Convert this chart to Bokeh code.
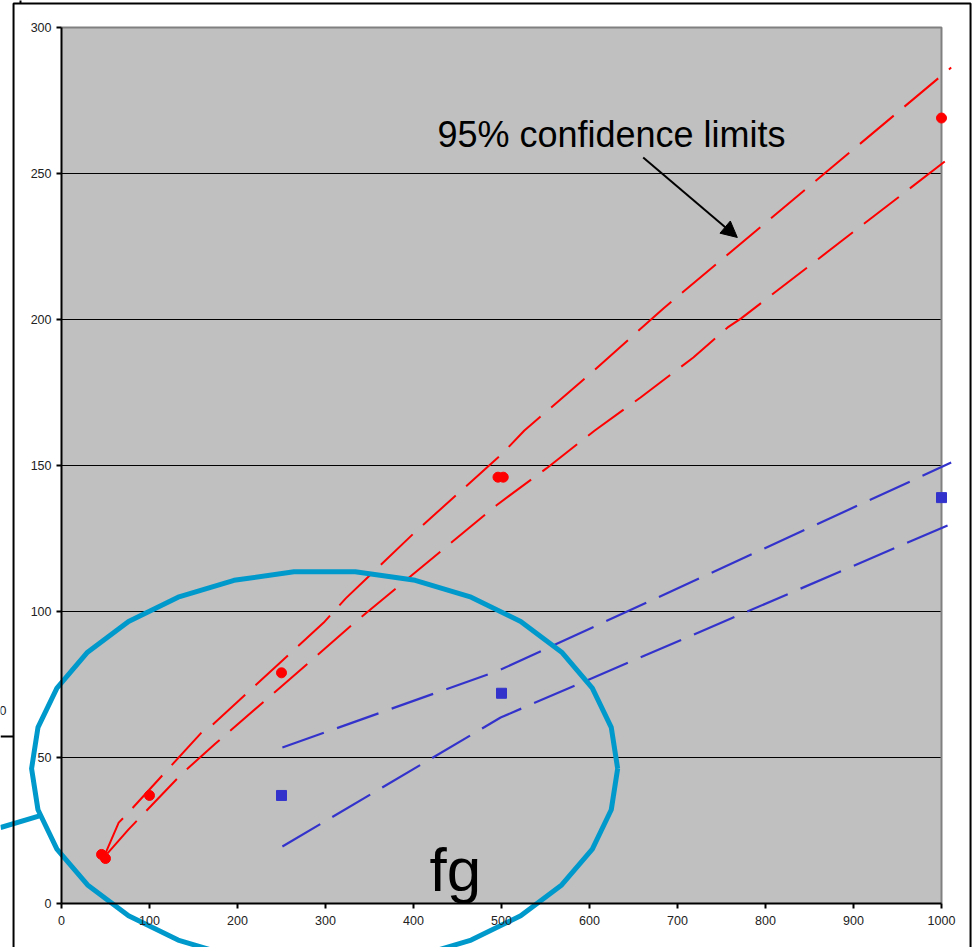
import math

from bokeh.embed import file_html
from bokeh.models import Arrow, FixedTicker, Label, LinearAxis, NormalHead, Range1d
from bokeh.plotting import figure
from bokeh.resources import INLINE

# Axis ticks
x_ticks = [0, 100, 200, 300, 400, 500, 600, 700, 800, 900, 1000]
y_ticks = [0, 50, 100, 150, 200, 250, 300]
grid_y = [50, 100, 150, 200, 250]

# Measured points
red_x = [45.5, 50, 100, 250, 496, 502, 1000]
red_y = [16.8, 15.4, 37, 79, 146, 146, 269]
blue_x = [250, 500, 1000]
blue_y = [37, 72, 139]

# 95% confidence limits (red series)
red_upper_x = [48, 65, 75, 158, 172, 298, 323, 400, 424, 501, 526, 605, 684, 1011]
red_upper_y = [15.8, 27.7, 30.8, 58.2, 61.3, 96.2, 104.5, 126.7, 133.2, 154.1, 162.0, 182.5, 203.8, 286.3]
red_lower_x = [52, 76, 137, 175, 242, 281, 333, 494, 509, 551, 606, 658, 718, 757, 772, 1011]
red_lower_y = [17.1, 25.3, 44.5, 54.8, 72.3, 82.5, 96.2, 136.3, 139.7, 149.0, 162.0, 173.3, 187.0, 197.3, 200.3, 255.8]

# 95% confidence limits (blue series)
blue_upper_x = [251, 497, 1011]
blue_upper_y = [53.4, 79.8, 151]
blue_lower_x = [251, 499, 1011]
blue_lower_y = [19.5, 63.7, 130]

FONT = "Liberation Sans"
CYAN = "#0099CC"

# The frame fills the whole canvas so that the callout shapes can run past the plot area;
# the axes are pinned at x=0 / y=0.
p = figure(
    width=973, height=947,
    x_range=Range1d(-69.32, 1036.36), y_range=Range1d(-15.07, 309.25),
    output_backend="svg", toolbar_location=None,
    x_axis_location=None, y_axis_location=None,
    min_border=0, min_border_left=0, min_border_right=0, min_border_top=0, min_border_bottom=0,
    background_fill_color="white", border_fill_color="white",
)
p.outline_line_color = None
p.xgrid.visible = False
p.ygrid.visible = False

# plot area
p.quad(left=0, right=1000, bottom=0, top=300, fill_color="#C0C0C0", line_color=None)
p.segment(x0=[0] * len(grid_y), x1=[1000] * len(grid_y), y0=grid_y, y1=grid_y,
          line_color="black", line_width=1.2)
p.line(x=[0, 1000, 1000], y=[300, 300, 0], line_color="#808080", line_width=2)

# axes
xaxis = LinearAxis(fixed_location=0)
yaxis = LinearAxis(fixed_location=0)
p.add_layout(xaxis, "below")
p.add_layout(yaxis, "left")
for ax, ticks in ((xaxis, x_ticks), (yaxis, y_ticks)):
    ax.ticker = FixedTicker(ticks=ticks)
    ax.bounds = (ticks[0], ticks[-1])
    ax.axis_line_color = "black"
    ax.axis_line_width = 2
    ax.major_tick_line_color = "black"
    ax.major_tick_line_width = 2
    ax.major_tick_out = 5
    ax.major_tick_in = 0
    ax.minor_tick_line_color = None
    ax.major_label_text_font = FONT
    ax.major_label_text_font_size = "12.5px"
    ax.major_label_text_color = "#222222"
xaxis.major_label_standoff = 8
yaxis.major_label_standoff = 5

# confidence limit lines
dash = "44 14"
p.line(red_upper_x, red_upper_y, line_color="red", line_width=2, line_dash=dash)
p.line(red_lower_x, red_lower_y, line_color="red", line_width=2, line_dash=dash)
p.line(blue_upper_x, blue_upper_y, line_color="#3333CC", line_width=2.2, line_dash=dash)
p.line(blue_lower_x, blue_lower_y, line_color="#3333CC", line_width=2.2, line_dash=dash)

# points
p.scatter(red_x, red_y, marker="circle", size=10, fill_color="red", line_color="red")
p.scatter(blue_x, blue_y, marker="square", size=10, fill_color="#3333CC", line_color="#3333CC")

# annotation text and arrow
p.add_layout(Label(x=625, y=263.5, text="95% confidence limits", text_align="center",
                   text_baseline="alphabetic", text_font=FONT, text_font_size="36px",
                   text_color="black"))
p.add_layout(Arrow(x_start=661, y_start=255.5, x_end=768, y_end=228.1,
                   line_color="black", line_width=2,
                   end=NormalHead(size=16, fill_color="black", line_color="black")))

# highlighted region
cx, cy, ax_r, ay_r = 299.0, 46.2, 333.0, 67.8
n = 30
ex = [cx + ax_r * math.cos(2 * math.pi * k / n) for k in range(n + 1)]
ey = [cy + ay_r * math.sin(2 * math.pi * k / n) for k in range(n + 1)]
p.line(ex, ey, line_color=CYAN, line_width=5, line_join="round")
p.line([-69.3, -24], [26.0, 30.1], line_color=CYAN, line_width=5)
p.add_layout(Label(x=447.7, y=11.5, text="fg", text_align="center", text_baseline="alphabetic",
                   text_font=FONT, text_font_size="62px", text_color="black"))

# chart area border
p.line([-54.5, -54.5, 1033, 1033], [-30, 308.2, 308.2, -30], line_color="black", line_width=2)
p.line([-69.3, -54.5], [57.2, 57.2], line_color="black", line_width=2)
p.line([-46.6, -46.6], [308.2, 310], line_color="black", line_width=2)
p.add_layout(Label(x=-62.5, y=66.1, text="0", text_align="right", text_baseline="middle",
                   text_font=FONT, text_font_size="12.5px", text_color="#222222"))

open("out.html", "w").write(file_html(p, INLINE))
